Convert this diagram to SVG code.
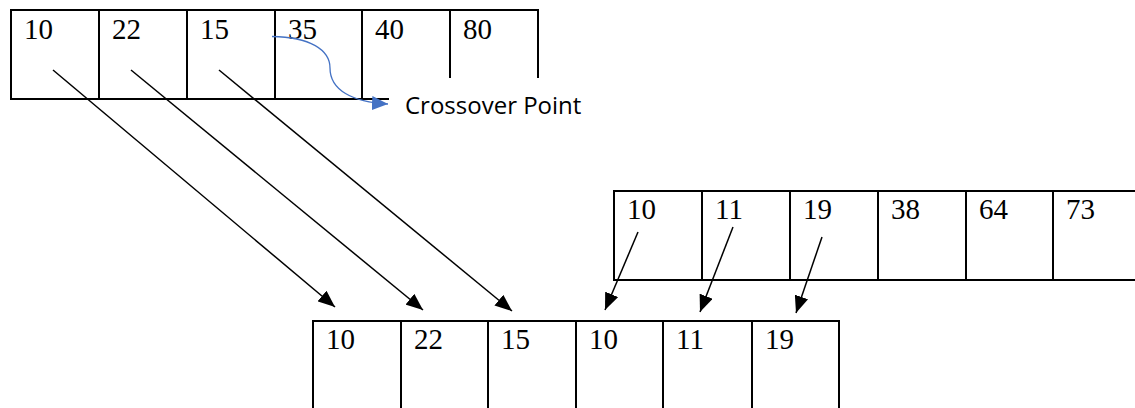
<svg xmlns="http://www.w3.org/2000/svg" width="1135" height="408" viewBox="0 0 1135 408">
  <style>
    .box { stroke: #000; stroke-width: 2; fill: none; stroke-linecap: square; }
    .num { font-family: "Liberation Serif", "Times New Roman", serif; font-size: 29px; fill: #000; }
    .lbl { font-family: "Open Sans", "Liberation Sans", sans-serif; font-size: 24px; fill: #000; }
    .arr { stroke: #000; stroke-width: 1.5; fill: none; marker-end: url(#ah); }
    .blue { stroke: #4472C4; stroke-width: 1.3; fill: none; marker-end: url(#ahb); }
  </style>
  <defs>
    <marker id="ah" viewBox="0 0 17 14" refX="17" refY="7" markerUnits="userSpaceOnUse" markerWidth="17" markerHeight="14" orient="auto">
      <path d="M0,0 L17,7 L0,14 z" fill="#000"/>
    </marker>
    <marker id="ahb" viewBox="0 0 16 14" refX="16" refY="7" markerUnits="userSpaceOnUse" markerWidth="16" markerHeight="14" orient="auto">
      <path d="M0,0 L16,7 L0,14 z" fill="#4472C4"/>
    </marker>
  </defs>

  <rect width="1135" height="408" fill="#fff"/>

  <g id="parent1">
    <path class="box" d="M11,10 H538 M11,99 H388 M11,10 V99 M99,10 V99 M187,10 V99 M275,10 V99 M362,10 V99 M450,10 V77 M538,10 V77"/>
    <text class="num" x="24" y="39">10</text>
    <text class="num" x="112" y="39">22</text>
    <text class="num" x="200" y="39">15</text>
    <text class="num" x="288" y="39">35</text>
    <text class="num" x="375" y="39">40</text>
    <text class="num" x="463" y="39">80</text>
  </g>

  <g id="parent2">
    <path class="box" d="M614,191 H1136 M614,280 H1136 M614,191 V280 M702,191 V280 M790,191 V280 M878,191 V280 M966,191 V280 M1053,191 V280"/>
    <text class="num" x="627" y="219">10</text>
    <text class="num" x="715" y="219">11</text>
    <text class="num" x="803" y="219">19</text>
    <text class="num" x="891" y="219">38</text>
    <text class="num" x="979" y="219">64</text>
    <text class="num" x="1066" y="219">73</text>
  </g>

  <g id="offspring">
    <path class="box" d="M313,321 H839 M313,321 V409 M401,321 V409 M488,321 V409 M576,321 V409 M663,321 V409 M752,321 V409 M839,321 V409"/>
    <text class="num" x="326" y="349">10</text>
    <text class="num" x="414" y="349">22</text>
    <text class="num" x="501" y="349">15</text>
    <text class="num" x="589" y="349">10</text>
    <text class="num" x="676" y="349">11</text>
    <text class="num" x="765" y="349">19</text>
  </g>

  <g id="crossover-label">
    <text class="lbl" x="405" y="114">Crossover Point</text>
  </g>

  <g id="connectors">
    <line class="arr" x1="53" y1="70" x2="335" y2="307"/>
    <line class="arr" x1="131" y1="70" x2="423" y2="310"/>
    <line class="arr" x1="219" y1="70" x2="512" y2="311"/>
    <line class="arr" x1="638" y1="232" x2="605" y2="310"/>
    <line class="arr" x1="733" y1="227" x2="700" y2="312"/>
    <line class="arr" x1="822" y1="237" x2="796" y2="313"/>
    <path class="blue" d="M272,36.5 C310,37 330,50 330,68 C330,90 352,102 388,104"/>
  </g>
</svg>
